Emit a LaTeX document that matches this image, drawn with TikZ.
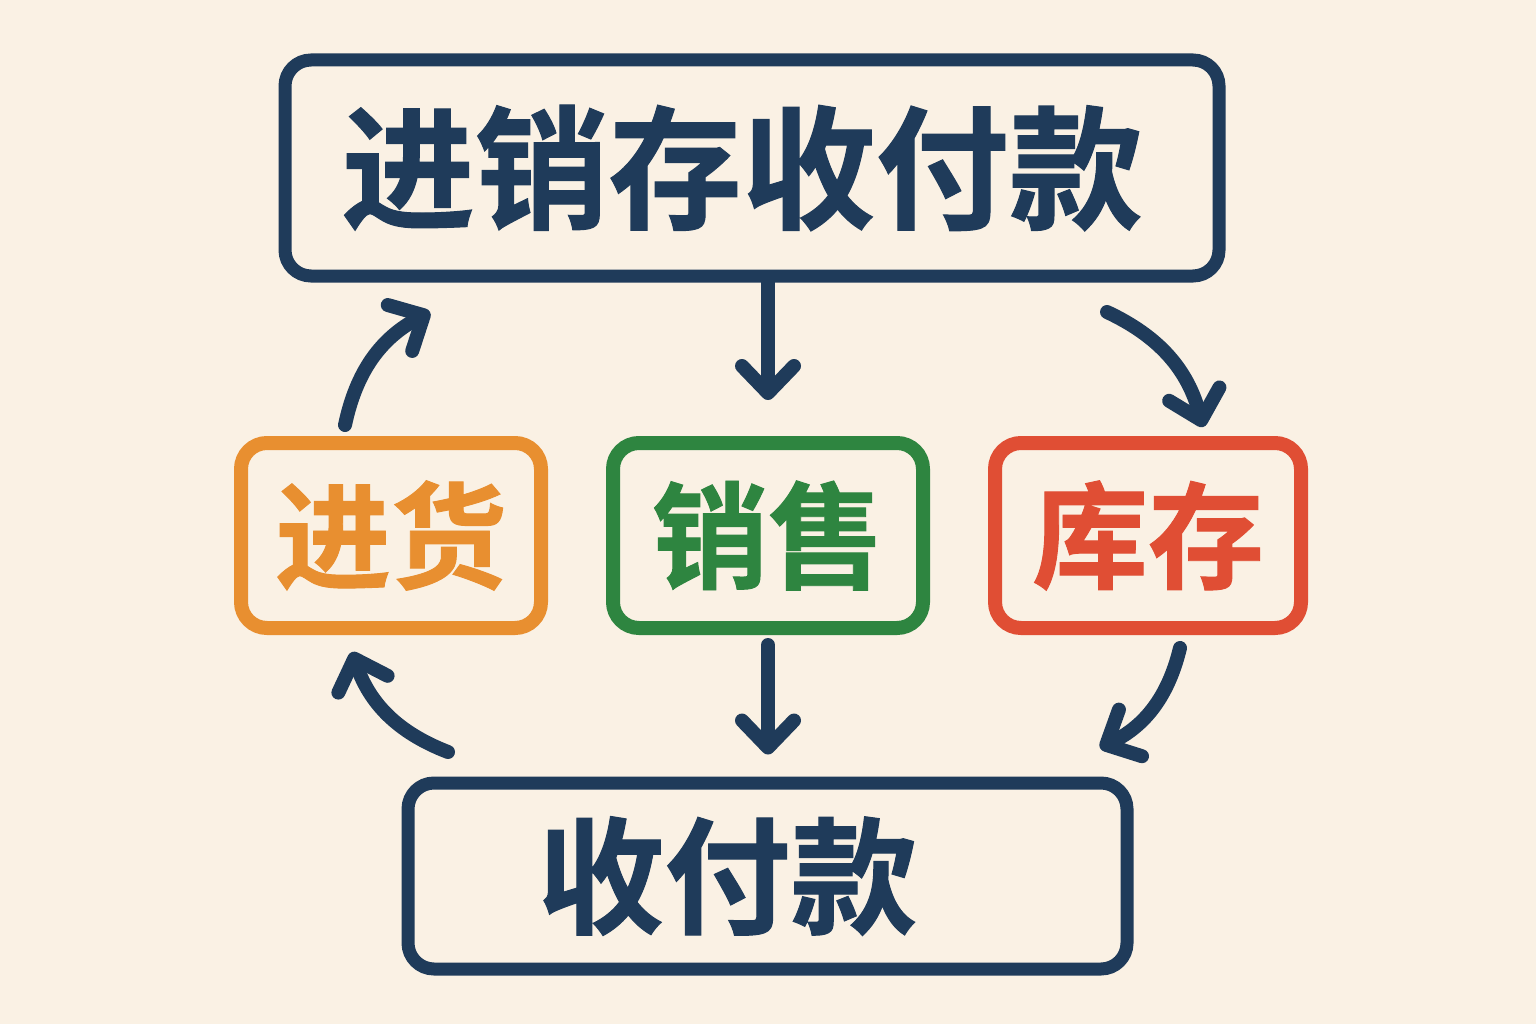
\documentclass[tikz,border=0pt]{standalone}
\usepackage{fontspec}
\newfontfamily\cjk{Noto Sans CJK SC}[BoldFont={Noto Sans CJK SC Bold},BoldFeatures={FakeBold=0.8}]
\usetikzlibrary{arrows.meta}
\definecolor{bg}{HTML}{FAF1E4}
\definecolor{navy}{HTML}{1F3B5A}
\definecolor{jhorange}{HTML}{E88F30}
\definecolor{xsgreen}{HTML}{2E8540}
\definecolor{kcred}{HTML}{E04E34}

\begin{document}
\begin{tikzpicture}[
    box/.style={draw,rounded corners=0.26cm,line width=1.3mm,inner sep=0pt},
    bigtext/.style={font=\cjk\bfseries\fontsize{38}{40}\selectfont},
    midtext/.style={font=\cjk\bfseries\fontsize{33}{35}\selectfont},
    arr/.style={draw=navy,line width=1.4mm,line cap=round,
        -{Straight Barb[length=2.7mm,width=5.2mm,round]}}
]
       \fill[bg](0,0)rectangle(15.36,10.24);
       % boxes
       \node[box,draw=navy,text=navy,bigtext,minimum width=9.34cm,minimum height=2.16cm](jxc)at(7.52,8.56){进销存收付款\kern2mm};
       \node[box,draw=jhorange,text=jhorange,midtext,line width=1.4mm,minimum width=3.0cm,minimum height=1.85cm](jh)at(3.91,4.885){进货};
       \node[box,draw=xsgreen,text=xsgreen,midtext,line width=1.4mm,minimum width=3.1cm,minimum height=1.85cm](xs)at(7.68,4.885){销售};
       \node[box,draw=kcred,text=kcred,midtext,line width=1.4mm,minimum width=3.06cm,minimum height=1.85cm](kc)at(11.48,4.885){库存};
       \node[box,draw=navy,text=navy,font=\cjk\bfseries\fontsize{36}{38}\selectfont,minimum width=7.19cm,minimum height=1.86cm](sfk)at(7.675,1.48){收付款\kern8mm};
       % free ends of the curved arrows
       \coordinate(L1)at(3.45,5.99);
       \coordinate(L2)at(4.30,7.12);
       \coordinate(R1)at(11.07,7.12);
       \coordinate(R2)at(12.03,5.97);
       \coordinate(R3)at(11.80,3.76);
       \coordinate(R4)at(11.00,2.76);
       \coordinate(L3)at(4.48,2.72);
       \coordinate(L4)at(3.52,3.72);
       % arrows
       \draw[arr,shorten >=3.6mm](xs.north|-jxc.south)--(xs.north);
       \draw[arr,shorten <=1mm,shorten >=2.2mm](xs.south)--(xs.south|-sfk.north);
       \draw[arr](L1)to[bend left=25](L2);
       \draw[arr](R1)to[bend left=25](R2);
       \draw[arr](R3)to[bend left=25](R4);
       \draw[arr](L3)to[bend left=25](L4);
\end{tikzpicture}
\end{document}
